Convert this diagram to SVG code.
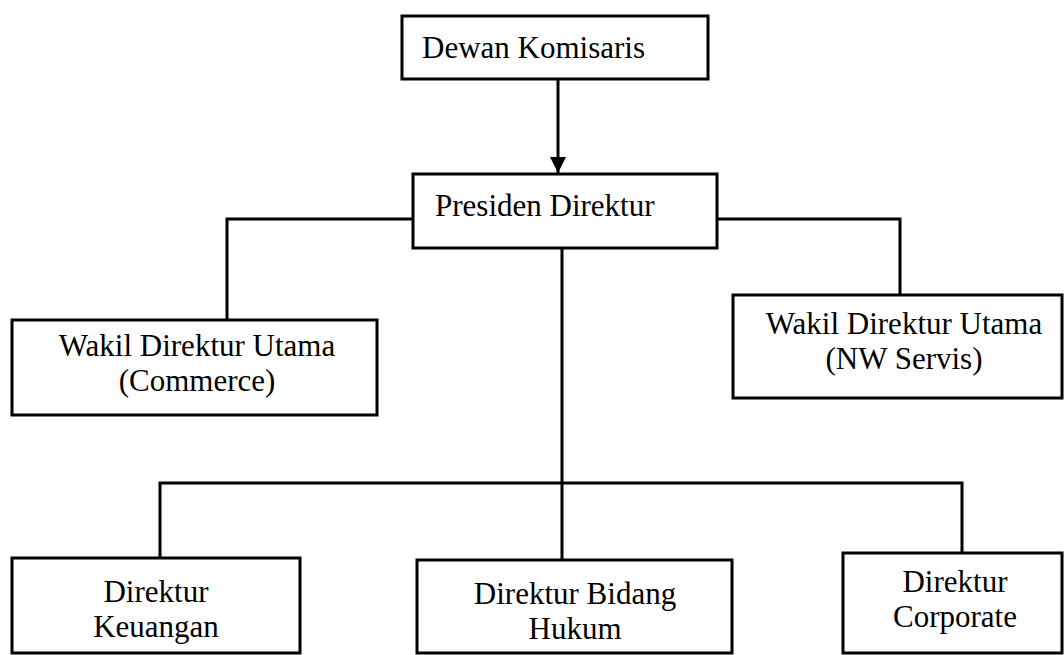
<svg xmlns="http://www.w3.org/2000/svg" width="1064" height="655" viewBox="0 0 1064 655">
<style>
.box{fill:#fff;stroke:#000;stroke-width:3}
.ln{fill:none;stroke:#000;stroke-width:3}
text{font-family:"Liberation Serif","Times New Roman",serif;font-size:31px;fill:#000}
.c{text-anchor:middle}
</style>
<defs>
<marker id="arr" markerWidth="18" markerHeight="16" refX="16" refY="8" orient="auto" markerUnits="userSpaceOnUse">
<path d="M0,0 L16,8 L0,16 Z" fill="#000"/>
</marker>
</defs>
<rect width="1064" height="655" fill="#fff"/>
<g id="connectors">
<line class="ln" x1="558" y1="79" x2="558" y2="173" marker-end="url(#arr)"/>
<polyline class="ln" points="413,219 227,219 227,320"/>
<polyline class="ln" points="717,219 900,219 900,295"/>
<line class="ln" x1="562" y1="248" x2="562" y2="560"/>
<polyline class="ln" points="160,558 160,483 962,483 962,553"/>
</g>
<g id="dewan">
<rect class="box" x="402" y="16" width="306" height="63"/>
<text x="422" y="58">Dewan Komisaris</text>
</g>
<g id="presiden">
<rect class="box" x="413" y="174" width="304" height="74"/>
<text x="435" y="216">Presiden Direktur</text>
</g>
<g id="wakil-commerce">
<rect class="box" x="12" y="320" width="365" height="95"/>
<text class="c" x="197" y="356">Wakil Direktur Utama</text>
<text class="c" x="197" y="391">(Commerce)</text>
</g>
<g id="wakil-nw">
<rect class="box" x="733" y="295" width="329" height="103"/>
<text class="c" x="904" y="334">Wakil Direktur Utama</text>
<text class="c" x="904" y="369">(NW Servis)</text>
</g>
<g id="keuangan">
<rect class="box" x="12" y="558" width="288" height="95"/>
<text class="c" x="156" y="602">Direktur</text>
<text class="c" x="156" y="637">Keuangan</text>
</g>
<g id="hukum">
<rect class="box" x="417" y="560" width="315" height="93"/>
<text class="c" x="575" y="604">Direktur Bidang</text>
<text class="c" x="575" y="639">Hukum</text>
</g>
<g id="corporate">
<rect class="box" x="843" y="553" width="219" height="100"/>
<text class="c" x="955" y="592">Direktur</text>
<text class="c" x="955" y="627">Corporate</text>
</g>
</svg>
